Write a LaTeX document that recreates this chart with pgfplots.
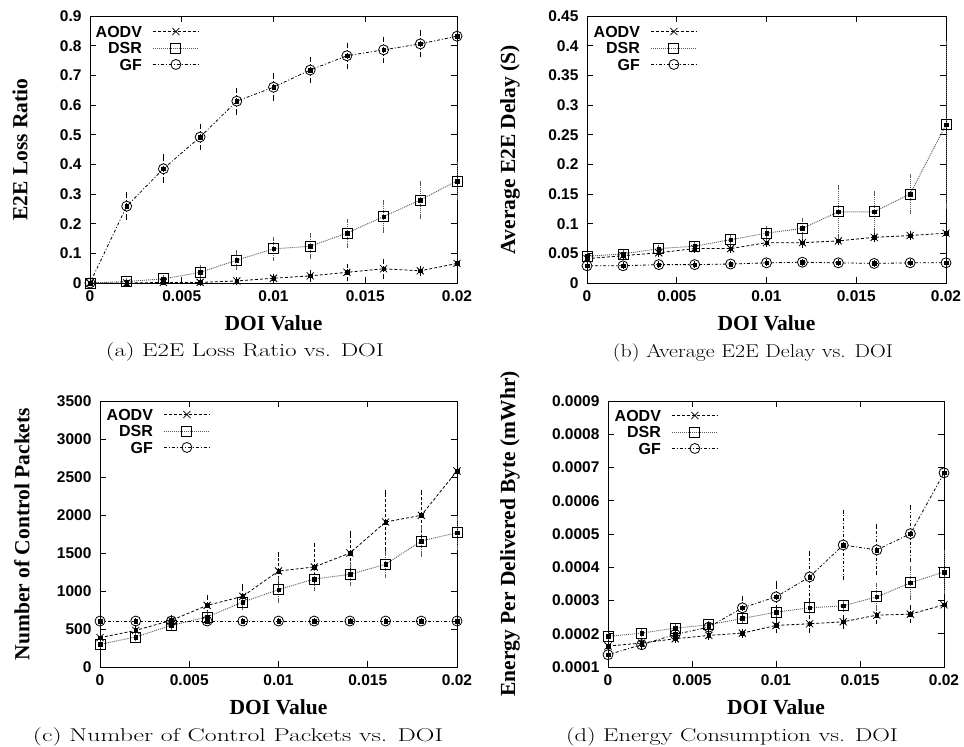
\documentclass[border=0pt]{standalone}
\usepackage{fontspec}
\setsansfont{Liberation Sans}
\newfontfamily\timesb{Liberation Serif}
\usepackage{graphicx}
\usepackage{pgfplots}
\usepackage{pgfplotstable}
\pgfplotsset{compat=1.18}

\pgfplotstableread{
x     ay     ae     dy     de     gy     ge
0     0      0.001  0      0.001  0      0.001
0.002 0      0.001  0.005  0.003  0.259  0.039
0.004 0.002  0.002  0.014  0.006  0.385  0.042
0.006 0.002  0.003  0.036  0.016  0.492  0.037
0.008 0.007  0.005  0.077  0.026  0.613  0.038
0.010 0.016  0.008  0.115  0.034  0.660  0.039
0.012 0.024  0.014  0.124  0.037  0.718  0.037
0.014 0.036  0.022  0.168  0.042  0.766  0.037
0.016 0.048  0.026  0.224  0.047  0.786  0.036
0.018 0.041  0.010  0.280  0.056  0.806  0.038
0.020 0.066  0.024  0.344  0.058  0.832  0.038
}\tabA

\pgfplotstableread{
x     ay     ae     dy     de     gy     ge
0     0.041  0.003  0.045  0.003  0.029  0.002
0.002 0.046  0.003  0.049  0.003  0.029  0.002
0.004 0.051  0.003  0.058  0.003  0.031  0.002
0.006 0.058  0.003  0.062  0.004  0.031  0.002
0.008 0.058  0.003  0.073  0.005  0.032  0.002
0.010 0.068  0.003  0.084  0.009  0.034  0.002
0.012 0.068  0.005  0.092  0.014  0.035  0.002
0.014 0.071  0.004  0.120  0.042  0.034  0.002
0.016 0.077  0.004  0.120  0.032  0.033  0.002
0.018 0.080  0.004  0.150  0.030  0.034  0.002
0.020 0.084  0.004  0.267  0.138  0.034  0.002
}\tabB

\pgfplotstableread{
x     ay     ae     dy     de     gy     ge
0     386    30     298    20     605    5
0.002 482    40     395    30     605    5
0.004 614    40     548    40     605    5
0.006 811    110    658    50     605    5
0.008 930    135    855    70     605    5
0.010 1263   220    1017   140    605    5
0.012 1316   290    1158   130    605    5
0.014 1500   267    1219   130    605    5
0.016 1908   390    1351   150    605    5
0.018 1996   300    1658   180    605    5
0.020 2579   445    1768   195    605    5
}\tabC

\pgfplotstableread{
x     ay        ae        dy        de        gy        ge
0     0.000163  0.000005  0.000192  0.000004  0.000137  0.000005
0.002 0.000172  0.000005  0.000202  0.000005  0.000167  0.000006
0.004 0.000185  0.000006  0.000217  0.000006  0.000198  0.000008
0.006 0.000195  0.000006  0.000227  0.000006  0.000220  0.000010
0.008 0.000202  0.000007  0.000246  0.000008  0.000278  0.000028
0.010 0.000225  0.000017  0.000265  0.000010  0.000311  0.000040
0.012 0.000230  0.000020  0.000278  0.000012  0.000371  0.000070
0.014 0.000236  0.000015  0.000284  0.000012  0.000467  0.000100
0.016 0.000256  0.000020  0.000311  0.000035  0.000452  0.000070
0.018 0.000259  0.000020  0.000353  0.000045  0.000501  0.000080
0.020 0.000287  0.000030  0.000386  0.000060  0.000684  0.000016
}\tabD

\pgfplotsset{
  gp/.style={
    scale only axis, clip=false,
    xmin=0, xmax=0.02, xtick={0,0.005,0.01,0.015,0.02},
    tick align=inside, tick pos=both, major tick length=6pt,
    scaled ticks=false,
    xticklabel style={/pgf/number format/fixed, /pgf/number format/precision=3, yshift=-4pt},
    /pgf/number format/assume math mode=true,
    tick label style={font=\sffamily\bfseries\fontsize{15.5}{17}\selectfont},
    yticklabel style={xshift=-5pt},
    axis line style={line width=0.9pt},
    tick style={line width=0.9pt, black},
    xlabel={DOI Value},
    label style={font=\timesb\bfseries\fontsize{21.5}{24}\selectfont},
    legend cell align=right,
    legend plot pos=right,
    legend image code/.code={\draw[mark repeat=2,mark phase=2,##1] plot coordinates {(0pt,0pt) (23pt,0pt) (46pt,0pt)};},
    legend style={draw=none, fill=none, at={(0,1)}, anchor=north west,
      font=\sffamily\bfseries\fontsize{16}{17}\selectfont,
      row sep=0pt, column sep=8pt,
      nodes={inner sep=2.5pt, text height=11.5pt, text depth=0pt}},
  },
  xlab/.style={x label style={at={([yshift=-#1]axis description cs:0.5,0)}, anchor=center}},
  ylab/.style={y label style={at={([xshift=-#1]axis description cs:0,0.5)}, anchor=center}},
  ebars/.style={error bars/.cd, y dir=both, y explicit,
     error bar style={line width=0.7pt},
     error mark options={solid, mark size=2.2pt, line width=0.7pt}},
  aodv/.style={black, line width=0.8pt, dash pattern=on 3pt off 2pt, mark=x, mark size=5pt, mark options={solid, line width=0.8pt}, ebars},
  dsr/.style={black!65, line width=0.9pt, dash pattern=on 1pt off 1pt, mark=square, mark size=5pt, mark options={solid, black, line width=0.8pt}, ebars},
  gf/.style={black, line width=0.8pt, dash pattern=on 3pt off 2pt on 1pt off 2pt, mark=o, mark size=5pt, mark options={solid, line width=0.8pt}, ebars},
  ctr/.style={only marks, mark=square*, mark size=1.8pt, black, forget plot},
}

\newcommand\subcap[2]{\resizebox{#1}{\height}{\fontsize{18.5}{20}\selectfont #2}}

\begin{document}
\begin{tikzpicture}
\useasboundingbox (0,0) rectangle (964pt,-747pt);

% (a)
\begin{axis}[gp, at={(90pt,-283pt)}, anchor=south west, width=367pt, height=267pt,
  ymin=0, ymax=0.9, ytick={0,0.1,...,0.9},
  yticklabel style={/pgf/number format/fixed, /pgf/number format/precision=1},
  ylabel={E2E Loss Ratio}, xlab=40pt, ylab=70pt,
  legend style={xshift=0pt, yshift=-5pt}]
\addplot[aodv] table[x=x,y=ay,y error=ae] {\tabA};
\addlegendentry{AODV}
\addplot[dsr] table[x=x,y=dy,y error=de] {\tabA};
\addlegendentry{DSR}
\addplot[gf] table[x=x,y=gy,y error=ge] {\tabA};
\addlegendentry{GF}
\addplot[ctr] table[x=x,y=ay] {\tabA};
\addplot[ctr] table[x=x,y=dy] {\tabA};
\addplot[ctr] table[x=x,y=gy] {\tabA};
\end{axis}

% (b)
\begin{axis}[gp, at={(587pt,-283pt)}, anchor=south west, width=359pt, height=267pt,
  ymin=0, ymax=0.45, ytick={0,0.05,...,0.45},
  yticklabel style={/pgf/number format/fixed, /pgf/number format/precision=2},
  ylabel={Average E2E Delay (S)}, xlab=40pt, ylab=77pt,
  legend style={xshift=1pt, yshift=-5pt}]
\addplot[aodv] table[x=x,y=ay,y error=ae] {\tabB};
\addlegendentry{AODV}
\addplot[dsr] table[x=x,y=dy,y error=de] {\tabB};
\addlegendentry{DSR}
\addplot[gf] table[x=x,y=gy,y error=ge] {\tabB};
\addlegendentry{GF}
\addplot[ctr] table[x=x,y=ay] {\tabB};
\addplot[ctr] table[x=x,y=dy] {\tabB};
\addplot[ctr] table[x=x,y=gy] {\tabB};
\end{axis}

% (c)
\begin{axis}[gp, at={(100pt,-667pt)}, anchor=south west, width=357pt, height=266pt,
  ymin=0, ymax=3500, ytick={0,500,...,3500},
  yticklabel style={/pgf/number format/1000 sep={}},
  ylabel={Number of Control Packets}, xlab=40pt, ylab=78pt,
  legend style={xshift=1pt, yshift=-3pt}]
\addplot[aodv] table[x=x,y=ay,y error=ae] {\tabC};
\addlegendentry{AODV}
\addplot[dsr] table[x=x,y=dy,y error=de] {\tabC};
\addlegendentry{DSR}
\addplot[gf] table[x=x,y=gy,y error=ge] {\tabC};
\addlegendentry{GF}
\addplot[ctr] table[x=x,y=ay] {\tabC};
\addplot[ctr] table[x=x,y=dy] {\tabC};
\addplot[ctr] table[x=x,y=gy] {\tabC};
\end{axis}

% (d)
\begin{axis}[gp, at={(608pt,-667pt)}, anchor=south west, width=336pt, height=266pt,
  ymin=0.0001, ymax=0.0009,
  ytick={0.0001,0.0002,0.0003,0.0004,0.0005,0.0006,0.0007,0.0008,0.0009},
  yticklabel style={/pgf/number format/fixed, /pgf/number format/fixed zerofill, /pgf/number format/precision=4},
  ylabel={Energy Per Delivered Byte (mWhr)}, xlab=40pt, ylab=98pt,
  legend style={xshift=1pt, yshift=-4pt}]
\addplot[aodv] table[x=x,y=ay,y error=ae] {\tabD};
\addlegendentry{AODV}
\addplot[dsr] table[x=x,y=dy,y error=de] {\tabD};
\addlegendentry{DSR}
\addplot[gf] table[x=x,y=gy,y error=ge] {\tabD};
\addlegendentry{GF}
\addplot[ctr] table[x=x,y=ay] {\tabD};
\addplot[ctr] table[x=x,y=dy] {\tabD};
\addplot[ctr] table[x=x,y=gy] {\tabD};
\end{axis}

\node[anchor=center, inner sep=0pt] at (245pt,-352pt) {\subcap{278pt}{(a) E2E Loss Ratio vs. DOI}};
\node[anchor=center, inner sep=0pt] at (753pt,-353pt) {\subcap{280pt}{(b) Average E2E Delay vs. DOI}};
\node[anchor=center, inner sep=0pt] at (238pt,-737pt) {\subcap{410pt}{(c) Number of Control Packets vs. DOI}};
\node[anchor=center, inner sep=0pt] at (732pt,-737pt) {\subcap{332pt}{(d) Energy Consumption vs. DOI}};
\end{tikzpicture}
\end{document}
